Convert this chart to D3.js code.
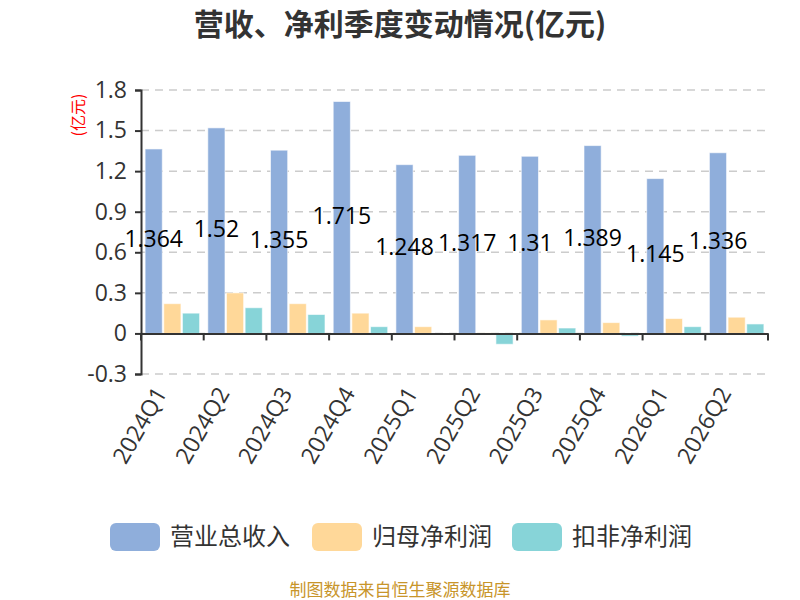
<!DOCTYPE html>
<html>
<head>
<meta charset="utf-8">
<script src="https://cdn.jsdelivr.net/npm/d3@7"></script>
<style>
  body { margin: 0; background: #fff; }
  svg { font-family: "Noto Sans CJK SC", "Noto Sans", sans-serif; }
</style>
</head>
<body>
<div class="graph"></div>
<script>
var quarters = ["2024Q1", "2024Q2", "2024Q3", "2024Q4", "2025Q1", "2025Q2", "2025Q3", "2025Q4", "2026Q1", "2026Q2"];
var revenue = [1.364, 1.52, 1.355, 1.715, 1.248, 1.317, 1.31, 1.389, 1.145, 1.336];
var netProfit = [0.22, 0.30, 0.22, 0.15, 0.05, 0.004, 0.10, 0.08, 0.11, 0.12];
var deductedProfit = [0.15, 0.19, 0.14, 0.05, -0.01, -0.08, 0.04, -0.02, 0.05, 0.07];
var seriesNames = ["营业总收入", "归母净利润", "扣非净利润"];
var yTicks = [-0.3, 0, 0.3, 0.6, 0.9, 1.2, 1.5, 1.8];

var colors = ["#8FAEDB", "#FFD899", "#87D4D8"];
var width = 800;
var height = 600;
var plotLeft = 141, plotRight = 768, plotTop = 90, plotBottom = 374;

var svg = d3.select(".graph").append("svg")
  .attr("width", width)
  .attr("height", height);

svg.append("text")
  .attr("x", 400)
  .attr("y", 35)
  .attr("text-anchor", "middle")
  .attr("font-size", 30)
  .attr("font-weight", "bold")
  .attr("fill", "#333")
  .text("营收、净利季度变动情况(亿元)");

var x = d3.scaleBand()
  .domain(quarters)
  .range([plotLeft, plotRight]);

var x1 = d3.scaleBand()
  .domain(d3.range(3))
  .range([0, x.bandwidth()])
  .paddingInner(0.08)
  .paddingOuter(0.22);

var y = d3.scaleLinear()
  .domain([-0.3, 1.8])
  .range([plotBottom, plotTop]);

// grid
svg.append("g")
  .selectAll("line")
  .data(yTicks)
  .enter().append("line")
  .attr("x1", plotLeft)
  .attr("x2", plotRight)
  .attr("y1", d => y(d))
  .attr("y2", d => y(d))
  .attr("stroke", "#ccc")
  .attr("stroke-width", 1.5)
  .attr("stroke-dasharray", "8,6");

var yAxis = d3.axisLeft(y)
  .tickValues(yTicks)
  .tickSize(6)
  .tickFormat(d => d === 0 ? "0" : d.toFixed(1));

var yAxisGroup = svg.append("g")
  .attr("transform", "translate(" + plotLeft + ",0)")
  .call(yAxis);
yAxisGroup.select(".domain").attr("stroke", "#333").attr("stroke-width", 2);
yAxisGroup.selectAll(".tick line").attr("stroke", "#333").attr("stroke-width", 2);
yAxisGroup.selectAll(".tick text")
  .attr("font-size", 23)
  .attr("fill", "#333")
  .attr("x", -14)
  .attr("font-family", "'Open Sans', sans-serif");

var data = [revenue, netProfit, deductedProfit];

var groups = svg.append("g")
  .selectAll("g")
  .data(quarters)
  .enter().append("g")
  .attr("transform", d => "translate(" + x(d) + ",0)");

groups.selectAll("rect")
  .data((q, i) => data.map((s, k) => ({k: k, v: s[i]})))
  .enter().append("rect")
  .attr("x", d => x1(d.k))
  .attr("width", x1.bandwidth())
  .attr("y", d => Math.min(y(d.v), y(0)))
  .attr("height", d => Math.abs(y(d.v) - y(0)))
  .attr("fill", d => colors[d.k])
  .attr("stroke", "rgba(255,255,255,0.6)")
  .attr("stroke-width", 1);

// x axis at zero
var xAxis = d3.axisBottom(x).tickSize(0).tickFormat("");
var xAxisGroup = svg.append("g")
  .attr("transform", "translate(0," + y(0) + ")")
  .call(xAxis);
xAxisGroup.select(".domain").attr("stroke", "#333").attr("stroke-width", 2);
xAxisGroup.selectAll(".boundary")
  .data(quarters.concat(["end"]))
  .enter().append("line")
  .attr("x1", (d, i) => i < quarters.length ? x(d) : plotRight)
  .attr("x2", (d, i) => i < quarters.length ? x(d) : plotRight)
  .attr("y1", 0)
  .attr("y2", 7)
  .attr("stroke", "#333")
  .attr("stroke-width", 2);

// x labels
svg.append("g")
  .selectAll("text")
  .data(quarters)
  .enter().append("text")
  .attr("transform", d => "translate(" + (x(d) + x.bandwidth() / 2 - 10) + "," + (plotBottom + 16) + ") rotate(-60)")
  .attr("text-anchor", "end")
  .attr("dominant-baseline", "middle")
  .attr("font-size", 23)
  .attr("fill", "#333")
  .attr("font-family", "'Open Sans', sans-serif")
  .text(d => d);

// value labels
groups.append("text")
  .attr("x", x1(0) + x1.bandwidth() / 2)
  .attr("y", (q, i) => y(revenue[i] / 2))
  .attr("text-anchor", "middle")
  .attr("dominant-baseline", "middle")
  .attr("font-size", 23)
  .attr("fill", "#000")
  .attr("font-family", "'Open Sans', sans-serif")
  .text((q, i) => revenue[i]);

// unit label
svg.append("text")
  .attr("transform", "translate(84,115) rotate(-90)")
  .attr("text-anchor", "middle")
  .attr("font-size", 16)
  .attr("fill", "red")
  .text("(亿元)");

// legend
var legendX = [110, 312, 512];
var legend = svg.append("g")
  .selectAll("g")
  .data(seriesNames)
  .enter().append("g")
  .attr("transform", (d, i) => "translate(" + legendX[i] + ",523)");
legend.append("rect")
  .attr("width", 50)
  .attr("height", 28)
  .attr("rx", 6)
  .attr("fill", (d, i) => colors[i]);
legend.append("text")
  .attr("x", 60)
  .attr("y", 15)
  .attr("dominant-baseline", "middle")
  .attr("font-size", 24)
  .attr("fill", "#333")
  .text(d => d);

svg.append("text")
  .attr("x", 400)
  .attr("y", 596)
  .attr("text-anchor", "middle")
  .attr("font-size", 17)
  .attr("fill", "#C8952A")
  .text("制图数据来自恒生聚源数据库");
</script>
</body>
</html>
